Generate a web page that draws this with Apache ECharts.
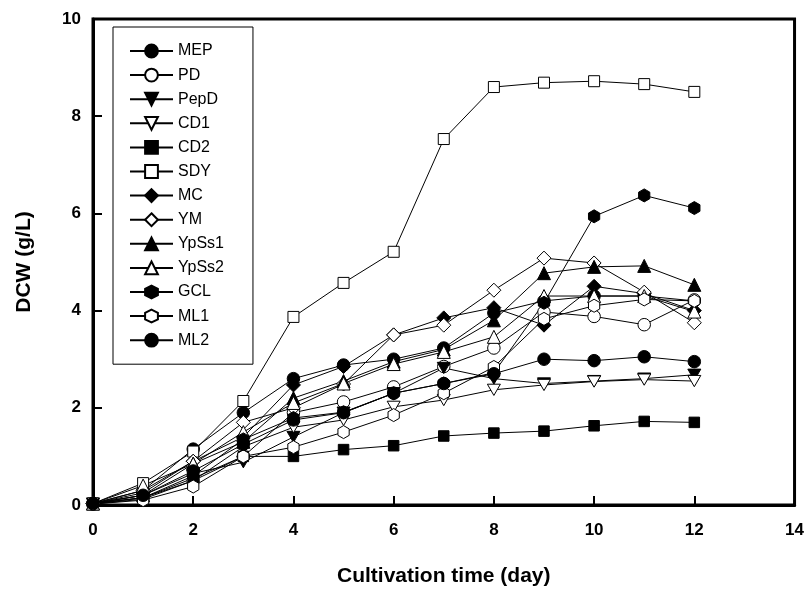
<!DOCTYPE html>
<html>
<head>
<meta charset="utf-8">
<script src="https://cdn.jsdelivr.net/npm/echarts@6/dist/echarts.min.js"></script>
<style>html,body{margin:0;padding:0;background:#fff;}#c{width:807px;height:596px;}</style>
</head>
<body>
<div id="c"></div>
<script>
const days = [0,1,2,3,4,5,6,7,8,9,10,11,12];
const MEP   = [0.03,0.30,1.15,1.90,2.60,2.88,3.00,3.23,3.95,4.20,4.30,4.30,4.20];
const PD    = [0.02,0.15,0.50,1.00,1.90,2.12,2.43,2.85,3.23,3.97,3.88,3.71,4.22];
const PepD  = [0.03,0.20,0.65,0.88,1.40,1.90,2.30,2.82,2.60,2.50,2.55,2.60,2.68];
const CD1   = [0.02,0.12,0.50,1.20,1.60,1.75,2.02,2.16,2.37,2.47,2.54,2.58,2.55];
const CD2   = [0.03,0.15,0.55,1.00,1.00,1.14,1.22,1.42,1.48,1.52,1.63,1.72,1.70];
const SDY   = [0.03,0.45,1.10,2.14,3.87,4.57,5.21,7.53,8.60,8.69,8.72,8.66,8.50];
const MC    = [0.03,0.25,0.90,1.40,2.47,2.85,3.50,3.85,4.06,3.70,4.50,4.35,4.00];
const YM    = [0.03,0.30,0.90,1.70,2.00,2.49,3.50,3.70,4.42,5.08,4.98,4.38,3.75];
const YpSs1 = [0.03,0.20,0.85,1.30,2.20,2.55,2.95,3.20,3.80,4.77,4.90,4.92,4.53];
const YpSs2 = [0.03,0.40,0.85,1.50,2.10,2.50,2.90,3.15,3.46,4.30,4.30,4.30,3.98];
const GCL   = [0.03,0.15,0.60,1.35,1.79,1.91,2.30,2.50,2.72,4.16,5.94,6.37,6.11];
const ML1   = [0.02,0.10,0.38,1.00,1.19,1.50,1.85,2.30,2.84,3.83,4.10,4.23,4.20];
const ML2   = [0.03,0.20,0.70,1.25,1.75,1.90,2.30,2.50,2.70,3.00,2.97,3.05,2.95];
const xTicks = [0,2,4,6,8,10,12,14];
const yTicks = [0,2,4,6,8,10];

const DOWN = 'path://M0,0 L2,0 L1,1.732 Z';
const HEX = 'path://M0,-1 L0.866,-0.5 L0.866,0.5 L0,1 L-0.866,0.5 L-0.866,-0.5 Z';
const defs = [
  ['MEP', MEP, 'circle', true, 12.5],
  ['PD', PD, 'circle', false, 12.5],
  ['PepD', PepD, DOWN, true, 13],
  ['CD1', CD1, DOWN, false, 13],
  ['CD2', CD2, 'rect', true, 10.5],
  ['SDY', SDY, 'rect', false, 11],
  ['MC', MC, 'diamond', true, 14],
  ['YM', YM, 'diamond', false, 14],
  ['YpSs1', YpSs1, 'triangle', true, 13],
  ['YpSs2', YpSs2, 'triangle', false, 13],
  ['GCL', GCL, HEX, true, 13],
  ['ML1', ML1, HEX, false, 13],
  ['ML2', ML2, 'circle', true, 12.5]
];
const series = defs.map(d => ({
  name: d[0], type: 'line',
  data: days.map((x,i) => [x, d[1][i]]),
  symbol: d[2], symbolSize: d[4], symbolKeepAspect: true,
  showAllSymbol: true,
  lineStyle: {color:'#000', width:1},
  itemStyle: {color: d[3] ? '#000' : '#fff', borderColor:'#000', borderWidth:1, opacity:1},
  emphasis: {disabled:true},
  animation: false
}));

const chart = echarts.init(document.getElementById('c'), null, {renderer:'canvas'});
chart.setOption({
  backgroundColor:'#fff',
  animation:false,
  grid: {left:93, right:10, top:19, bottom:91, show:true, borderColor:'#000', borderWidth:3, backgroundColor:'transparent'},
  legend: {
    orient:'vertical', left:113, top:27, itemWidth:43, itemHeight:16, itemGap:8.1, itemTextGap:10,
    padding:[16,29,16,16], borderColor:'#000', borderWidth:1, backgroundColor:'#fff',
    textStyle:{fontFamily:'Liberation Sans, Arial', fontSize:16, lineHeight:16, color:'#000'},
    itemStyle:{borderColor:'#000'},
    data: defs.map(d=>d[0])
  },
  xAxis: {
    type:'value', min:0, max:14, interval:2,
    name:'Cultivation time (day)', nameLocation:'middle', nameGap:61,
    nameTextStyle:{fontFamily:'Liberation Sans, Arial', fontWeight:'bold', fontSize:21, color:'#000'},
    axisLine:{show:true, onZero:false, lineStyle:{color:'#000', width:3}},
    axisTick:{show:true, inside:true, length:9, lineStyle:{color:'#000', width:2}},
    axisLabel:{fontFamily:'Liberation Sans, Arial', fontWeight:'bold', fontSize:17, color:'#000', margin:17,
      formatter: v => xTicks.includes(v) ? String(v) : ''},
    splitLine:{show:false}
  },
  yAxis: {
    type:'value', min:0, max:10, interval:2,
    name:'DCW (g/L)', nameLocation:'middle', nameGap:58, nameRotate:90,
    nameTextStyle:{fontFamily:'Liberation Sans, Arial', fontWeight:'bold', fontSize:21, color:'#000'},
    axisLine:{show:true, onZero:false, lineStyle:{color:'#000', width:3}},
    axisTick:{show:true, inside:true, length:9, lineStyle:{color:'#000', width:2}},
    axisLabel:{fontFamily:'Liberation Sans, Arial', fontWeight:'bold', fontSize:17, color:'#000', margin:12,
      formatter: v => yTicks.includes(v) ? String(v) : ''},
    splitLine:{show:false}
  },
  series: series
});
</script>
</body>
</html>
